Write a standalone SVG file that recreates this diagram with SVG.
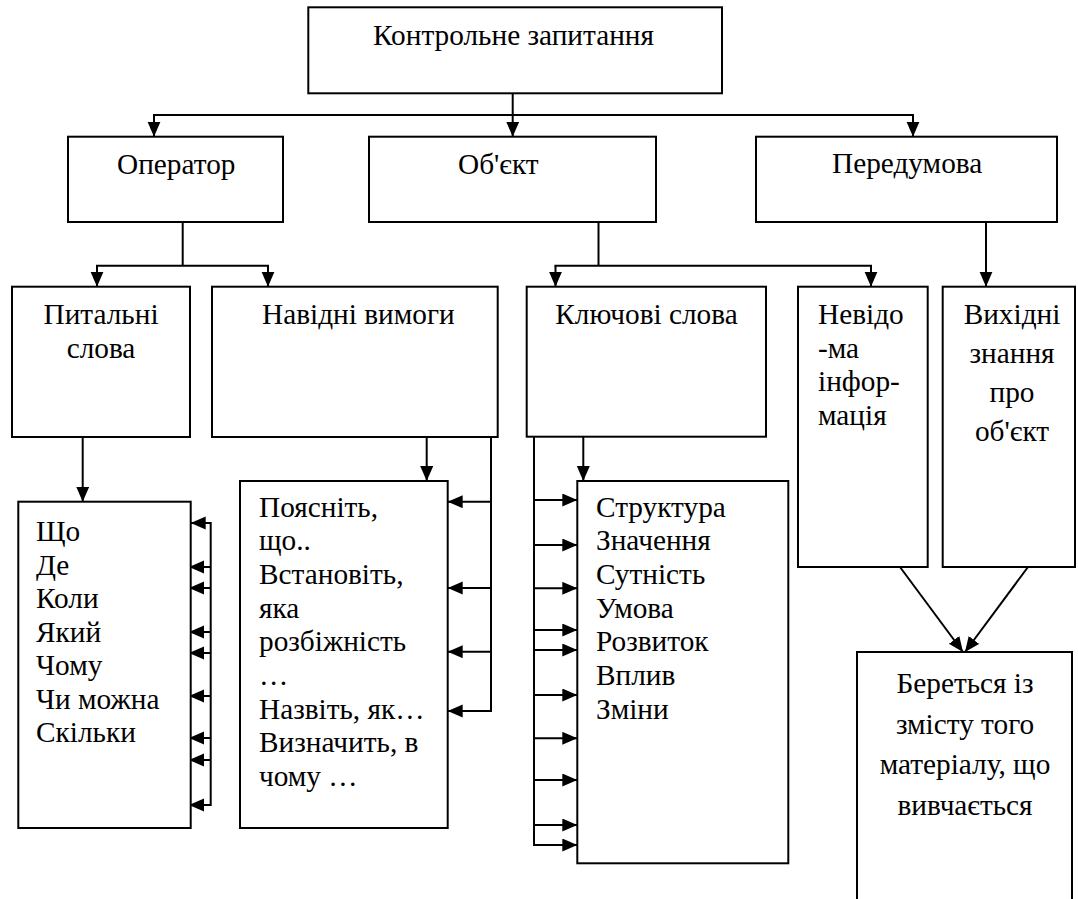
<svg xmlns="http://www.w3.org/2000/svg" width="1078" height="899" viewBox="0 0 1078 899">
<defs>
<style>
.box{fill:#fff;stroke:#000;stroke-width:2}
.ln{fill:none;stroke:#000;stroke-width:2}
.ar{fill:none;stroke:#000;stroke-width:2;marker-end:url(#ah)}
.c{text-anchor:middle}
</style>
<marker id="ah" markerUnits="userSpaceOnUse" markerWidth="16" markerHeight="14" refX="15" refY="6.5" orient="auto">
<path d="M0,0 L15,6.5 L0,13 z" fill="#000"/>
</marker>
</defs>
<rect width="1078" height="899" fill="#fff"/>

<g id="connectors">
<line class="ar" x1="512.7" y1="93" x2="512.7" y2="136.7"/>
<line class="ln" x1="153" y1="115" x2="914" y2="115"/>
<line class="ar" x1="154" y1="115" x2="154" y2="136.7"/>
<line class="ar" x1="913" y1="115" x2="913" y2="136.7"/>
<line class="ln" x1="182.7" y1="222" x2="182.7" y2="265.7"/>
<line class="ln" x1="96" y1="265.7" x2="269" y2="265.7"/>
<line class="ar" x1="97" y1="265.7" x2="97" y2="286.7"/>
<line class="ar" x1="268" y1="265.7" x2="268" y2="286.7"/>
<line class="ln" x1="598.5" y1="222" x2="598.5" y2="265.7"/>
<line class="ln" x1="554.5" y1="265.7" x2="872" y2="265.7"/>
<line class="ar" x1="555.5" y1="265.7" x2="555.5" y2="286.7"/>
<line class="ar" x1="871" y1="265.7" x2="871" y2="286.7"/>
<line class="ar" x1="986" y1="222" x2="986" y2="286.7"/>
<line class="ar" x1="82.7" y1="437" x2="82.7" y2="501.7"/>
<line class="ln" x1="210.7" y1="522" x2="210.7" y2="806"/>
<line class="ar" x1="210.7" y1="523" x2="190.7" y2="523"/>
<line class="ar" x1="210.7" y1="567" x2="189" y2="567"/>
<line class="ar" x1="210.7" y1="588" x2="189" y2="588"/>
<line class="ar" x1="210.7" y1="632" x2="189" y2="632"/>
<line class="ar" x1="210.7" y1="653" x2="189" y2="653"/>
<line class="ar" x1="210.7" y1="696" x2="189" y2="696"/>
<line class="ar" x1="210.7" y1="738" x2="189" y2="738"/>
<line class="ar" x1="210.7" y1="760" x2="189" y2="760"/>
<line class="ar" x1="210.7" y1="805" x2="189" y2="805"/>
<line class="ar" x1="426.7" y1="437" x2="426.7" y2="481"/>
<line class="ln" x1="491" y1="437" x2="491" y2="712"/>
<line class="ar" x1="491" y1="501.7" x2="447.7" y2="501.7"/>
<line class="ar" x1="491" y1="588" x2="447.7" y2="588"/>
<line class="ar" x1="491" y1="651.7" x2="447.7" y2="651.7"/>
<line class="ar" x1="492" y1="711" x2="447.7" y2="711"/>
<line class="ar" x1="583.3" y1="436.7" x2="583.3" y2="481"/>
<line class="ln" x1="534" y1="436.7" x2="534" y2="846"/>
<line class="ar" x1="534" y1="500" x2="577.3" y2="500"/>
<line class="ar" x1="534" y1="545" x2="577.3" y2="545"/>
<line class="ar" x1="534" y1="588.3" x2="577.3" y2="588.3"/>
<line class="ar" x1="534" y1="630" x2="577.3" y2="630"/>
<line class="ar" x1="534" y1="650" x2="577.3" y2="650"/>
<line class="ar" x1="534" y1="695" x2="577.3" y2="695"/>
<line class="ar" x1="534" y1="738.3" x2="577.3" y2="738.3"/>
<line class="ar" x1="534" y1="780" x2="577.3" y2="780"/>
<line class="ar" x1="534" y1="825" x2="577.3" y2="825"/>
<line class="ar" x1="533" y1="845" x2="577.3" y2="845"/>
<line class="ar" x1="900" y1="567" x2="963" y2="652"/>
<line class="ar" x1="1028" y1="567" x2="965" y2="652"/>
</g>

<g id="nodes" font-family="Liberation Serif" font-size="29.3">
<g id="n-control">
<rect class="box" x="308.3" y="7.3" width="413.7" height="86"/>
<text x="373" y="45">Контрольне запитання</text>
</g>
<g id="n-operator">
<rect class="box" x="68" y="136.7" width="215" height="85.3"/>
<text x="117" y="174">Оператор</text>
</g>
<g id="n-object">
<rect class="box" x="369" y="136.7" width="287" height="85.3"/>
<text x="458" y="174">Об'єкт</text>
</g>
<g id="n-premise">
<rect class="box" x="756" y="136.7" width="301" height="85.3"/>
<text x="832" y="173">Передумова</text>
</g>
<g id="n-question-words">
<rect class="box" x="12" y="286.7" width="178" height="150.3"/>
<text class="c" x="101" y="324">Питальні</text>
<text class="c" x="101" y="357.7">слова</text>
</g>
<g id="n-leading">
<rect class="box" x="212" y="286.7" width="285.7" height="150.3"/>
<text x="262" y="324">Навідні вимоги</text>
</g>
<g id="n-keywords">
<rect class="box" x="526.7" y="286.7" width="239.3" height="150"/>
<text class="c" x="646.5" y="324">Ключові слова</text>
</g>
<g id="n-unknown">
<rect class="box" x="798" y="286.7" width="129.7" height="280.3"/>
<text x="818" y="324">Невідо</text>
<text x="818" y="357.5">-ма</text>
<text x="818" y="391">інфор-</text>
<text x="818" y="424.5">мація</text>
</g>
<g id="n-initial">
<rect class="box" x="942.7" y="286.7" width="132.3" height="280.3"/>
<text class="c" x="1012" y="324">Вихідні</text>
<text class="c" x="1012" y="363">знання</text>
<text class="c" x="1012" y="401.5">про</text>
<text class="c" x="1012" y="440.5">об'єкт</text>
</g>
<g id="n-question-list">
<rect class="box" x="18.3" y="501.7" width="172.4" height="326.3"/>
<text x="36" y="541">Що</text>
<text x="36" y="574.5">Де</text>
<text x="36" y="608">Коли</text>
<text x="36" y="641.5">Який</text>
<text x="36" y="675">Чому</text>
<text x="36" y="708.5">Чи можна</text>
<text x="36" y="742">Скільки</text>
</g>
<g id="n-leading-list">
<rect class="box" x="240" y="481" width="207.7" height="347"/>
<text x="259" y="516.5">Поясніть,</text>
<text x="259" y="550.2">що..</text>
<text x="259" y="583.9">Встановіть,</text>
<text x="259" y="617.6">яка</text>
<text x="259" y="651.3">розбіжність</text>
<text x="259" y="685">…</text>
<text x="259" y="718.7">Назвіть, як…</text>
<text x="259" y="752.4">Визначить, в</text>
<text x="259" y="786.1">чому …</text>
</g>
<g id="n-keywords-list">
<rect class="box" x="577.3" y="481" width="211" height="382.3"/>
<text x="596" y="516.5">Структура</text>
<text x="596" y="550.2">Значення</text>
<text x="596" y="583.9">Сутність</text>
<text x="596" y="617.6">Умова</text>
<text x="596" y="651.3">Розвиток</text>
<text x="596" y="685">Вплив</text>
<text x="596" y="718.7">Зміни</text>
</g>
<g id="n-source">
<rect class="box" x="857" y="652" width="215" height="260"/>
<text class="c" x="965" y="693">Береться із</text>
<text class="c" x="965" y="733.5">змісту того</text>
<text class="c" x="965" y="774">матеріалу, що</text>
<text class="c" x="965" y="814.5">вивчається</text>
</g>
</g>
</svg>
